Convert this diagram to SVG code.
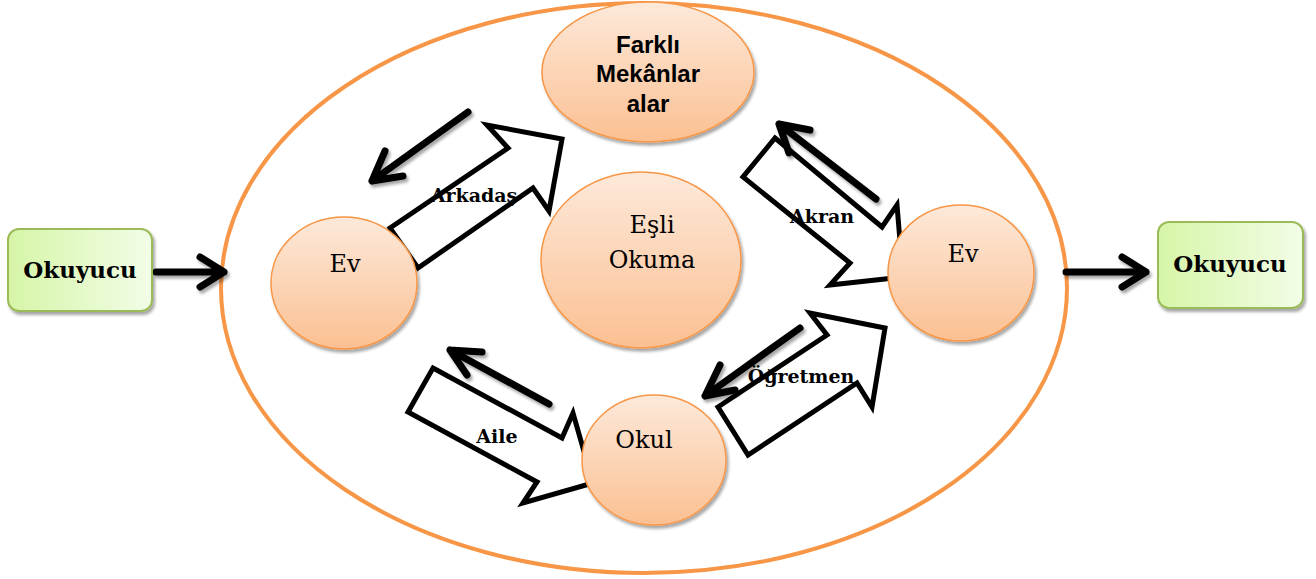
<svg xmlns="http://www.w3.org/2000/svg" width="1316" height="579" viewBox="0 0 1316 579">
<defs>
<linearGradient id="peach" x1="0" y1="0" x2="0" y2="1">
<stop offset="0" stop-color="#fde9da"/>
<stop offset="1" stop-color="#fbc092"/>
</linearGradient>
<linearGradient id="green" x1="0" y1="0" x2="1" y2="0">
<stop offset="0" stop-color="#d6f5a8"/>
<stop offset="1" stop-color="#f2fde6"/>
</linearGradient>
<filter id="sh" x="-20%" y="-20%" width="140%" height="140%">
<feDropShadow dx="2" dy="3" stdDeviation="1.5" flood-color="#000" flood-opacity="0.35"/>
</filter>
</defs>
<style>
.node{fill:url(#peach);stroke:#f79646;stroke-width:1.5;filter:url(#sh)}
.box{fill:url(#green);stroke:#9bbb59;stroke-width:2;filter:url(#sh)}
.blk{fill:#fff;stroke:#000;stroke-width:5;stroke-linejoin:miter}
.thin{fill:none;stroke:#000;stroke-width:7;stroke-linecap:round;stroke-linejoin:round;filter:url(#sh)}
.t{font-family:"DejaVu Serif","Liberation Serif",serif;font-size:24px;fill:#000;text-anchor:middle}
.ok{font-family:"DejaVu Serif","Liberation Serif",serif;font-weight:bold;font-size:23px;fill:#000;text-anchor:middle}
.lbl{font-family:"DejaVu Serif","Liberation Serif",serif;font-weight:bold;font-size:19px;fill:#000;text-anchor:middle}
.sans{font-family:"Liberation Sans",Arial,sans-serif;font-weight:bold;font-size:24px;fill:#000;text-anchor:middle}
</style>
<ellipse id="outer" cx="644" cy="288" rx="423" ry="285" fill="none" stroke="#f79646" stroke-width="4"/>
<g id="connectors">
<polygon class="blk" points="390,228 508,148 487,125 562,139 549,211 533,188 418,268"/>
<polygon class="blk" points="775,138 882,227 897,205 903,277 830,285 850,263 743,177"/>
<polygon class="blk" points="433,368 562,438 573,413 593,483 523,503 537,482 408,412"/>
<polygon class="blk" points="718,407 827,335 810,313 885,328 872,407 857,383 748,455"/>
<g class="thin">
<path d="M468,112 L372,181 M385,151 L372,181 L403,176"/>
<path d="M876,199 L779,124 M810,130 L779,124 L789,153"/>
<path d="M549,404 L450,350 M482,352 L450,350 L467,375"/>
<path d="M800,328 L705,396 M720,365 L705,396 L735,390"/>
<path d="M156,272 L224,272 M200,257 L224,272 L200,287"/>
<path d="M1066,272 L1146,272 M1122,257 L1146,272 L1122,287"/>
</g>
<text class="lbl" x="474" y="202">Arkadaş</text>
<text class="lbl" x="822" y="223">Akran</text>
<text class="lbl" x="497" y="443">Aile</text>
<text class="lbl" x="801" y="383">Öğretmen</text>
</g>
<g id="farkli">
<ellipse class="node" cx="648" cy="72" rx="106" ry="70"/>
<text class="sans" x="648" y="53">Farklı</text>
<text class="sans" x="648" y="82">Mekânlar</text>
<text class="sans" x="648" y="112">alar</text>
</g>
<g id="esli">
<ellipse class="node" cx="641" cy="260" rx="100" ry="88"/>
<text class="t" x="652" y="233">Eşli</text>
<text class="t" x="652" y="268">Okuma</text>
</g>
<g id="ev-left">
<ellipse class="node" cx="344" cy="283" rx="73" ry="66"/>
<text class="t" x="345" y="272">Ev</text>
</g>
<g id="ev-right">
<ellipse class="node" cx="961" cy="273" rx="73" ry="68"/>
<text class="t" x="963" y="262">Ev</text>
</g>
<g id="okul">
<ellipse class="node" cx="654" cy="460" rx="72" ry="65"/>
<text class="t" x="644" y="448">Okul</text>
</g>
<g id="okuyucu-left">
<rect class="box" x="8" y="229" width="144" height="82" rx="11"/>
<text class="ok" x="80" y="278">Okuyucu</text>
</g>
<g id="okuyucu-right">
<rect class="box" x="1158" y="222" width="145" height="86" rx="11"/>
<text class="ok" x="1230" y="272">Okuyucu</text>
</g>
</svg>
